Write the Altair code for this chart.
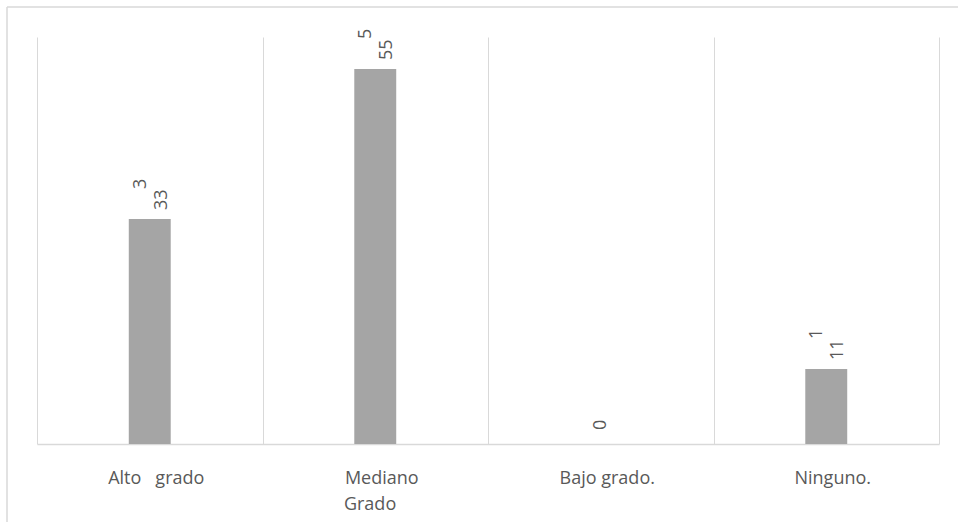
import altair as alt
import pandas as pd

# Categories, counts and the rotated value labels printed above each bar
categorias = [
    "Alto\u00a0\u00a0 grado",
    "Mediano\nGrado\u00a0\u00a0\u00a0\u00a0\u00a0\u2060",
    "Bajo grado.",
    "Ninguno.",
]
valores = [33, 55, 0, 11]
etiqueta_valor = ["33", "55", "0", "11"]
etiqueta_cifra = ["3", "5", "", "1"]

df = pd.DataFrame({
    "categoria": categorias,
    "valor": valores,
    "etiqueta": etiqueta_valor,
    "cifra": etiqueta_cifra,
})

W, H = 902, 407
GRIS_TEXTO = "#595959"
GRIS_LINEA = "#d9d9d9"
FUENTE = "Open Sans"

x_enc = alt.X(
    "categoria:N",
    sort=categorias,
    scale=alt.Scale(paddingInner=0, paddingOuter=0),
    axis=alt.Axis(
        title=None,
        grid=True,
        gridColor=GRIS_LINEA,
        gridWidth=1,
        tickBand="extent",
        ticks=False,
        domainColor=GRIS_LINEA,
        domainWidth=1.5,
        labelAngle=0,
        labelFont=FUENTE,
        labelFontSize=18,
        labelColor=GRIS_TEXTO,
        labelPadding=25,
        labelOffset=6,
        labelLineHeight=26,
        labelExpr="split(datum.label, '\\n')",
    ),
)
y_enc = alt.Y("valor:Q", scale=alt.Scale(domain=[0, 59.7]), axis=None)

base = alt.Chart(df).encode(x=x_enc, y=y_enc)

barras = base.mark_bar(color="#a5a5a5", width=alt.RelativeBandSize(0.186))

texto_cfg = dict(angle=270, align="left", baseline="middle",
                 font=FUENTE, fontSize=18, color=GRIS_TEXTO)

etiquetas = base.mark_text(dx=9, dy=12, **texto_cfg).encode(
    text="etiqueta:N"
).transform_filter("datum.valor > 0")

etiqueta_cero = base.mark_text(dx=14, dy=0, **texto_cfg).encode(
    text="etiqueta:N"
).transform_filter("datum.valor == 0")

cifras = base.mark_text(dx=30, dy=-9, **texto_cfg).encode(
    text="cifra:N"
).transform_filter("datum.cifra != ''")

# Outer frame of the chart box (top and left edges)
marco_df = pd.DataFrame({"k": [0]})
marco_sup = alt.Chart(marco_df).mark_rule(color=GRIS_LINEA, strokeWidth=1.5).encode(
    x=alt.value(-30), x2=alt.value(W + 19), y=alt.value(-30)
)
marco_izq = alt.Chart(marco_df).mark_rule(color=GRIS_LINEA, strokeWidth=1.5).encode(
    x=alt.value(-30), y=alt.value(-30), y2=alt.value(H + 78)
)

chart = (
    alt.layer(marco_sup, marco_izq, barras, etiquetas, etiqueta_cero, cifras)
    .properties(
        width=W,
        height=H,
        autosize=alt.AutoSizeParams(type="none"),
        padding={"left": 37, "top": 37, "right": 19, "bottom": 78},
        background="white",
    )
    .configure_view(stroke=None)
)

chart.save("out.html", embed_options={"renderer": "svg", "actions": False})
